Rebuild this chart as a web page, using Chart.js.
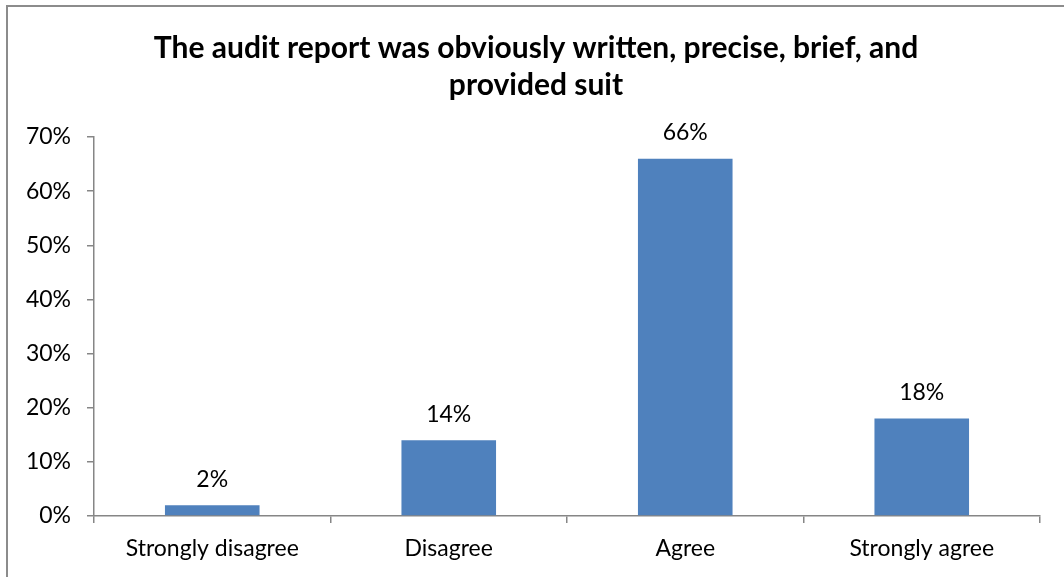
<!DOCTYPE html>
<html>
<head>
<meta charset="utf-8">
<title>Audit report survey</title>
<script src="https://cdn.jsdelivr.net/npm/chart.js@4.4.1/dist/chart.umd.min.js"></script>
<style>
  html, body { margin: 0; padding: 0; background: #fff; }
  #wrap { position: relative; width: 1064px; height: 577px; }
</style>
</head>
<body>
<div id="wrap"><canvas id="chart"></canvas></div>
<script>
const categories = ['Strongly disagree', 'Disagree', 'Agree', 'Strongly agree'];
const percentValues = [2, 14, 66, 18];
const yTicks = [0, 10, 20, 30, 40, 50, 60, 70];
const titleLines = ['The audit report was obviously written, precise, brief, and', 'provided suit'];

const FONT = 'Lato, "Open Sans", sans-serif';
const AXIS_GRAY = '#868686';

// outer frame of the chart
const framePlugin = {
  id: 'frame',
  beforeDraw(chart) {
    const ctx = chart.ctx;
    ctx.save();
    ctx.fillStyle = '#fff';
    ctx.fillRect(0, 0, chart.width, chart.height);
    ctx.strokeStyle = '#8c8c8c';
    ctx.lineWidth = 2;
    ctx.strokeRect(7, 6, chart.width + 20, chart.height + 20);
    ctx.restore();
  }
};

// two-line bold heading, centred on the frame rather than the plot
const headingPlugin = {
  id: 'heading',
  afterDraw(chart) {
    const ctx = chart.ctx;
    const cx = chart.width / 2 + 4;
    ctx.save();
    ctx.font = 'bold 30px ' + FONT;
    ctx.fillStyle = '#000';
    ctx.textAlign = 'center';
    ctx.textBaseline = 'middle';
    titleLines.forEach((line, i) => {
      ctx.fillText(line, cx, 48 + i * 37);
    });
    ctx.restore();
  }
};

// percentage label over each bar
const barLabels = {
  id: 'barLabels',
  afterDatasetsDraw(chart) {
    const ctx = chart.ctx;
    const meta = chart.getDatasetMeta(0);
    ctx.save();
    ctx.font = '23px ' + FONT;
    ctx.fillStyle = '#000';
    ctx.textAlign = 'center';
    ctx.textBaseline = 'middle';
    meta.data.forEach((bar, i) => {
      ctx.fillText(percentValues[i] + '%', bar.x, bar.y - 26);
    });
    ctx.restore();
  }
};

new Chart(document.getElementById('chart'), {
  type: 'bar',
  data: {
    labels: categories,
    datasets: [{
      data: percentValues,
      backgroundColor: '#4F81BD',
      borderWidth: 0,
      barPercentage: 0.4,
      categoryPercentage: 1
    }]
  },
  options: {
    responsive: true,
    maintainAspectRatio: false,
    animation: false,
    layout: {
      padding: { top: 137, right: 24, bottom: 0, left: 0 }
    },
    scales: {
      x: {
        afterFit(scale) { scale.height = 61; },
        grid: {
          offset: true,
          drawOnChartArea: false,
          drawTicks: true,
          tickLength: 7,
          color: AXIS_GRAY,
          lineWidth: 1.5
        },
        border: { display: true, color: AXIS_GRAY, width: 1.5 },
        ticks: {
          color: '#000',
          padding: 12,
          font: { family: FONT, size: 23 }
        }
      },
      y: {
        min: 0,
        max: 70,
        afterFit(scale) { scale.width = 94; },
        afterBuildTicks(scale) {
          scale.ticks = yTicks.map(v => ({ value: v }));
        },
        grid: {
          drawOnChartArea: false,
          drawTicks: true,
          tickLength: 7,
          color: AXIS_GRAY,
          lineWidth: 1.5
        },
        border: { display: true, color: AXIS_GRAY, width: 1.5 },
        ticks: {
          color: '#000',
          padding: 16,
          font: { family: FONT, size: 23 },
          callback: function(value) {
            return value + '%';
          }
        }
      }
    },
    plugins: {
      legend: { display: false },
      tooltip: { enabled: false },
      title: { display: false }
    }
  },
  plugins: [framePlugin, headingPlugin, barLabels]
});
</script>
</body>
</html>
